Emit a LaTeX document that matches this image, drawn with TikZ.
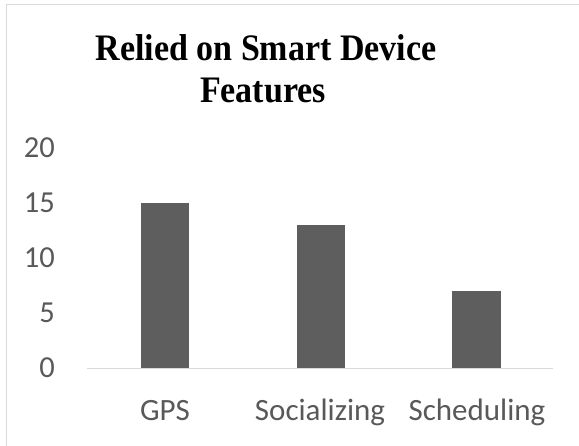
\documentclass[tikz,border=0pt]{standalone}
\usepackage{fontspec}
\usepackage{graphicx}
\setmainfont{Liberation Serif}
\newfontfamily\calibri{Carlito}
\definecolor{barc}{HTML}{5E5E5E}
\definecolor{labc}{HTML}{595959}
\definecolor{linec}{HTML}{D9D9D9}
\newcommand{\tallttl}[1]{\scalebox{1}[1.1]{#1}}
\begin{document}
\begin{tikzpicture}[x=1pt,y=-1pt,
  ticklab/.style={anchor=east,inner sep=0pt,text=labc,font=\calibri\fontsize{30.5}{34}\selectfont},
  catlab/.style={anchor=base,inner sep=0pt,text=labc,font=\calibri\fontsize{31}{34}\selectfont},
  titlelab/.style={anchor=base,inner sep=0pt,font=\bfseries\fontsize{34}{40}\selectfont},
  bar/.style={fill=barc},
  axisline/.style={draw=linec,line width=1.5pt}]
\useasboundingbox (0,0) rectangle (579,445);
\fill[white] (0,0) rectangle (579,445);
\draw[linec,line width=1.5pt] (6.5,4.5) rectangle (590,460);
% title
\node[titlelab] (title1) at (266,60) {\tallttl{Relied on Smart Device}};
\node[titlelab] (title2) at (263,102) {\tallttl{Features}};
% bars (0 at y=368, 11 px per unit)
\fill[bar] (141,368) rectangle (189,203);
\fill[bar] (297,368) rectangle (345,225);
\fill[bar] (452,368) rectangle (501,291);
% axis
\coordinate (ax0) at (87,368.5);
\coordinate (ax1) at (553,368.5);
\draw[axisline] (ax0) -- (ax1);
% ticks
\node[ticklab] (t0) at (55,368) {0};
\node[ticklab] (t5) at (55,313) {5};
\node[ticklab] (t10) at (55,258) {10};
\node[ticklab] (t15) at (55,203) {15};
\node[ticklab] (t20) at (55,148) {20};
% categories
\node[catlab] (c1) at (165,420) {GPS};
\node[catlab] (c2) at (320,420) {Socializing};
\node[catlab] (c3) at (477,420) {Scheduling};
\end{tikzpicture}
\end{document}
